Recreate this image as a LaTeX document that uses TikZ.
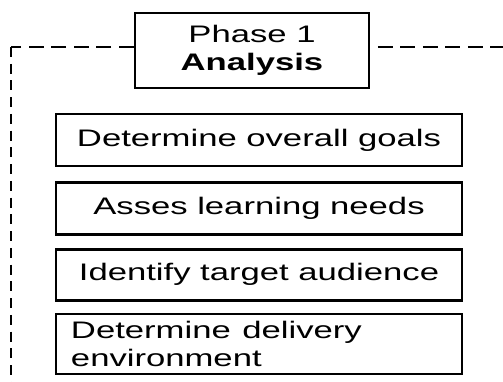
\documentclass[tikz,border=0pt]{standalone}
\usepackage{fontspec}
\setmainfont{Liberation Sans}
\usepackage{graphicx}
\usepackage{tikz}
\usetikzlibrary{positioning}

\newcommand{\stretchtext}[1]{\scalebox{1.45}[1]{#1}}

\tikzset{
    stepbox/.style={draw,line width=1.5pt,fill=white,minimum width=8.12cm,minimum height=1.04cm,inner sep=0pt,font=\fontsize{13.6}{15.6}\selectfont},
    dashh/.style={line width=1.4pt,dash pattern=on 0.3cm off 0.15cm},
    dashv/.style={line width=1.7pt,dash pattern=on 0.2cm off 0.135cm}
}

\begin{document}
\begin{tikzpicture}[node distance=0.25cm]
        \useasboundingbox (0,0) rectangle (10.06,7.64);
        \coordinate (corner) at (0.22,6.70);
        \coordinate (rightend) at (10.06,6.70);
        \coordinate (bottom) at (0.22,0);
        % phase title
        \node[stepbox,minimum width=4.68cm,minimum height=1.50cm,align=center] (phase) at (5.04,6.63)
            {\stretchtext{Phase 1}\\\stretchtext{\bfseries Analysis}};
        % the four tasks
        \node[stepbox] (goals) at (5.18,4.84) {\stretchtext{Determine overall goals}};
        \node[stepbox,below=0.28cm of goals] (needs) {\stretchtext{Asses learning needs}};
        \node[stepbox,below=0.24cm of needs,minimum height=1.02cm] (audience) {\stretchtext{Identify target audience}};
        \node[stepbox,below=0.22cm of audience,minimum height=1.20cm,align=left,text width=7.52cm,inner xsep=0.30cm] (delivery)
            {\stretchtext{Determine delivery}\\\stretchtext{environment}};
        % dashed frame
        \draw[dashh] (corner -| phase.west)--(corner);
        \draw[dashv] (corner)--(bottom);
        \draw[dashh,dash phase=0.3cm] (corner -| phase.east)--(rightend);
    \end{tikzpicture}
\end{document}
